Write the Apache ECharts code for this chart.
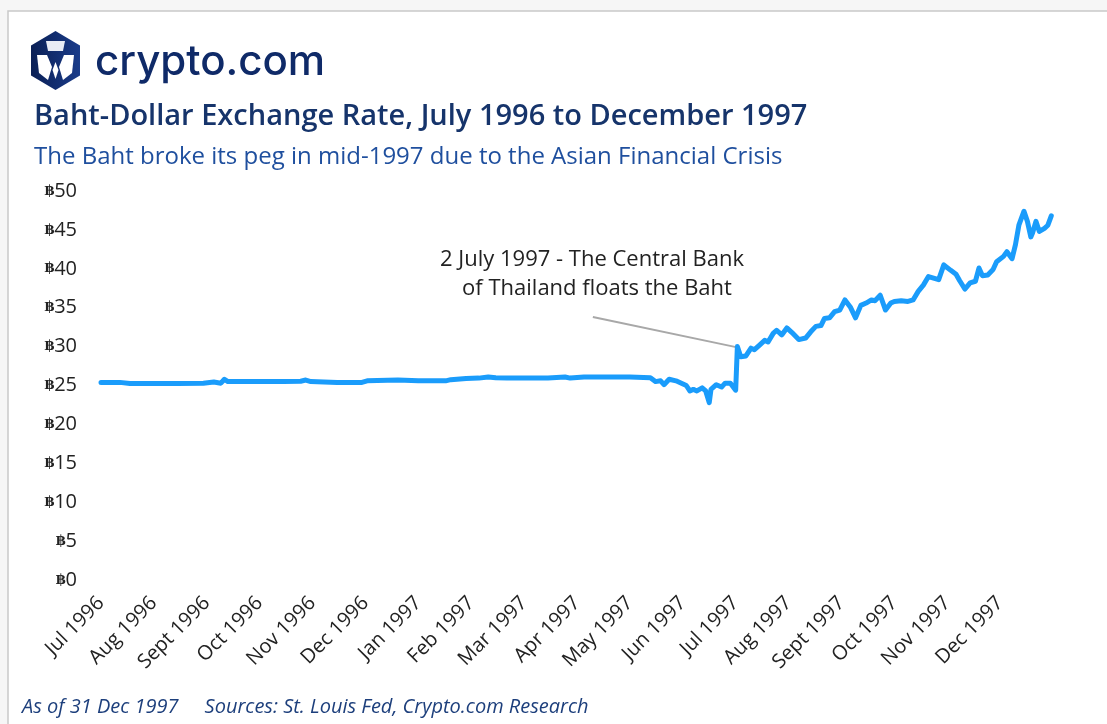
<!DOCTYPE html>
<html>
<head>
<meta charset="utf-8">
<script src="https://cdn.jsdelivr.net/npm/echarts@6/dist/echarts.min.js"></script>
<style>
  html, body { margin: 0; padding: 0; background: #f6f6f6; }
  #chart { width: 1107px; height: 724px; }
</style>
</head>
<body>
<div id="chart"></div>
<script>
// month tick labels (one per month start)
const monthLabels = ['Jul 1996', 'Aug 1996', 'Sept 1996', 'Oct 1996', 'Nov 1996', 'Dec 1996',
  'Jan 1997', 'Feb 1997', 'Mar 1997', 'Apr 1997', 'May 1997', 'Jun 1997',
  'Jul 1997', 'Aug 1997', 'Sept 1997', 'Oct 1997', 'Nov 1997', 'Dec 1997']

// dates
const dates = [
  '1996-07-01', '1996-07-12', '1996-07-18', '1996-08-01', '1996-08-15', '1996-08-30',
  '1996-09-05', '1996-09-09', '1996-09-11', '1996-09-13', '1996-10-01', '1996-10-15',
  '1996-10-25', '1996-10-28', '1996-10-31', '1996-11-15', '1996-11-29', '1996-12-02',
  '1996-12-20', '1997-01-01', '1997-01-17', '1997-01-20', '1997-01-29', '1997-02-05',
  '1997-02-10', '1997-02-14', '1997-02-20', '1997-03-15', '1997-03-25', '1997-03-28',
  '1997-04-05', '1997-05-01', '1997-05-13', '1997-05-16', '1997-05-19', '1997-05-21',
  '1997-05-24', '1997-05-28', '1997-06-03', '1997-06-05', '1997-06-07', '1997-06-09',
  '1997-06-12', '1997-06-14', '1997-06-16', '1997-06-17', '1997-06-20', '1997-06-23',
  '1997-06-25', '1997-06-28', '1997-07-01', '1997-07-02', '1997-07-04', '1997-07-07',
  '1997-07-10', '1997-07-12', '1997-07-15', '1997-07-16', '1997-07-18', '1997-07-20',
  '1997-07-23', '1997-07-25', '1997-07-28', '1997-07-31', '1997-08-03', '1997-08-07',
  '1997-08-11', '1997-08-14', '1997-08-17', '1997-08-20', '1997-08-22', '1997-08-25',
  '1997-08-28', '1997-08-31', '1997-09-03', '1997-09-06', '1997-09-09', '1997-09-12',
  '1997-09-15', '1997-09-18', '1997-09-20', '1997-09-23', '1997-09-26', '1997-09-29',
  '1997-10-01', '1997-10-05', '1997-10-09', '1997-10-12', '1997-10-15', '1997-10-18',
  '1997-10-21', '1997-10-24', '1997-10-27', '1997-10-30', '1997-11-03', '1997-11-06',
  '1997-11-08', '1997-11-11', '1997-11-14', '1997-11-17', '1997-11-19', '1997-11-21',
  '1997-11-24', '1997-11-27', '1997-11-29', '1997-12-03', '1997-12-05', '1997-12-08',
  '1997-12-10', '1997-12-12', '1997-12-15', '1997-12-17', '1997-12-19', '1997-12-20',
  '1997-12-22', '1997-12-24', '1997-12-27', '1997-12-29', '1997-12-31'
]

// baht per US dollar
const rates = [
  25.4, 25.4, 25.25, 25.25, 25.25, 25.3,
  25.45, 25.3, 25.8, 25.5, 25.5, 25.5,
  25.55, 25.7, 25.5, 25.4, 25.4, 25.6,
  25.7, 25.6, 25.6, 25.75, 25.9, 25.95,
  26.1, 26.0, 25.95, 25.95, 26.1, 25.95,
  26.1, 26.1, 26.0, 25.5, 25.6, 25.1,
  25.8, 25.6, 25.0, 24.3, 24.5, 24.3,
  24.7, 24.3, 22.8, 24.5, 25.1, 24.8,
  25.3, 25.3, 24.4, 30.0, 28.7, 28.8,
  29.8, 29.6, 30.2, 30.0, 30.8, 30.6,
  31.7, 32.1, 31.5, 32.4, 31.8, 30.9,
  31.1, 31.9, 32.6, 32.7, 33.6, 33.7,
  34.5, 34.7, 36.0, 35.1, 33.7, 35.3,
  35.6, 36.0, 35.9, 36.6, 34.7, 35.6,
  35.8, 35.9, 35.8, 36.0, 37.1, 37.9,
  39.0, 38.8, 38.6, 40.5, 39.8, 39.3,
  38.5, 37.4, 38.2, 38.4, 40.1, 39.1,
  39.2, 39.9, 40.9, 41.6, 42.2, 41.3,
  43.1, 45.6, 47.4, 46.1, 44.1, 44.6,
  46.1, 44.8, 45.2, 45.6, 46.8
]

const yTicks = [0, 5, 10, 15, 20, 25, 30, 35, 40, 45, 50]

// date -> months since 1 Jul 1996 (fractional)
const monthIndex = (s) => {
  const [y, m, d] = s.split('-').map(Number)
  const dim = new Date(y, m, 0).getDate()
  return (y - 1996) * 12 + (m - 7) + (d - 1) / dim
}

const seriesData = dates.map((d, i) => [monthIndex(d), rates[i]])

const chart = echarts.init(document.getElementById('chart'))

const navy = '#16346b'
const font = '"Open Sans", "Noto Sans", sans-serif'

const option = {
  backgroundColor: '#f6f6f6',
  animation: false,
  grid: {
    left: 101,
    right: 54,
    top: 191,
    bottom: 144
  },
  xAxis: {
    type: 'value',
    min: 0,
    max: 18,
    interval: 1,
    axisLine: { show: false },
    axisTick: { show: false },
    splitLine: { show: false },
    axisLabel: {
      rotate: 45,
      margin: 20,
      color: '#222',
      fontFamily: font,
      fontSize: 20,
      showMaxLabel: false,
      formatter: (v) => monthLabels[v] || ''
    }
  },
  yAxis: {
    type: 'value',
    min: 0,
    max: 50,
    interval: 5,
    axisLine: { show: false },
    axisTick: { show: false },
    splitLine: { show: false },
    axisLabel: {
      margin: 24,
      color: '#222',
      formatter: (v) => yTicks.includes(v) ? '{b|฿}{n|' + v + '}' : '',
      rich: {
        b: { fontSize: 14, fontFamily: '"DejaVu Serif", serif', color: '#222', fontWeight: 'bold' },
        n: { fontSize: 20, fontFamily: font, color: '#222' }
      }
    }
  },
  series: [
    {
      type: 'line',
      data: seriesData,
      showSymbol: false,
      lineStyle: { color: '#1a9cfb', width: 5, cap: 'round', join: 'round' },
      itemStyle: { color: '#1a9cfb' },
      silent: true,
      z: 3,
      markLine: {
        silent: true,
        symbol: ['none', 'none'],
        label: { show: false },
        lineStyle: { color: '#a8a8a8', width: 2, type: 'solid' },
        data: [[{ coord: [9.3, 33.8] }, { coord: [12.03, 29.9] }]],
        z: 2
      }
    }
  ],
  graphic: [
    {
      type: 'rect',
      shape: { x: 8, y: 11, width: 1200, height: 800 },
      style: { fill: '#ffffff', stroke: '#c9c9c9', lineWidth: 1.5 },
      z: -10,
      silent: true
    },
    // logo hexagon
    {
      type: 'polygon',
      shape: { points: [[55.5, 31], [80, 45.5], [80, 75.5], [55.5, 90], [31, 75.5], [31, 45.5]] },
      style: {
        fill: new echarts.graphic.LinearGradient(0, 0, 1, 0, [
          { offset: 0, color: '#0a1f55' },
          { offset: 1, color: '#1a3c8a' }
        ])
      }
    },
    {
      type: 'polygon',
      shape: { points: [[46, 41], [65, 41], [63, 51], [48, 51]] },
      style: { fill: '#e8ecf5' }
    },
    {
      type: 'polygon',
      shape: { points: [[37, 55], [47, 55], [52, 67], [48, 80], [39, 73]] },
      style: { fill: '#ffffff' }
    },
    {
      type: 'polygon',
      shape: { points: [[74, 55], [64, 55], [59, 67], [63, 80], [72, 73]] },
      style: { fill: '#ffffff' }
    },
    {
      type: 'polygon',
      shape: { points: [[55.5, 62], [58.5, 70], [55.5, 79], [52.5, 70]] },
      style: { fill: '#ffffff' }
    },
    {
      type: 'text',
      style: {
        x: 95, y: 62, text: 'crypto.com',
        fill: '#0f2a68',
        font: '500 42px Inter, "Noto Sans", sans-serif',
        verticalAlign: 'middle'
      }
    },
    {
      type: 'text',
      style: {
        x: 34, y: 117, text: 'Baht-Dollar Exchange Rate, July 1996 to December 1997',
        fill: navy,
        font: '600 29px ' + font,
        verticalAlign: 'middle'
      }
    },
    {
      type: 'text',
      style: {
        x: 34, y: 157, text: 'The Baht broke its peg in mid-1997 due to the Asian Financial Crisis',
        fill: '#1f4f9e',
        font: '24px ' + font,
        verticalAlign: 'middle'
      }
    },
    {
      type: 'text',
      style: {
        x: 592, y: 260, text: '2 July 1997 - The Central Bank',
        fill: '#222',
        font: '22px ' + font,
        align: 'center',
        verticalAlign: 'middle'
      }
    },
    {
      type: 'text',
      style: {
        x: 597, y: 289, text: 'of Thailand floats the Baht',
        fill: '#222',
        font: '22px ' + font,
        align: 'center',
        verticalAlign: 'middle'
      }
    },
    {
      type: 'text',
      style: {
        x: 22, y: 707, text: 'As of 31 Dec 1997     Sources: St. Louis Fed, Crypto.com Research',
        fill: '#1d3f7c',
        font: 'italic 20px ' + font,
        verticalAlign: 'middle'
      }
    }
  ]
}

chart.setOption(option)
</script>
</body>
</html>
